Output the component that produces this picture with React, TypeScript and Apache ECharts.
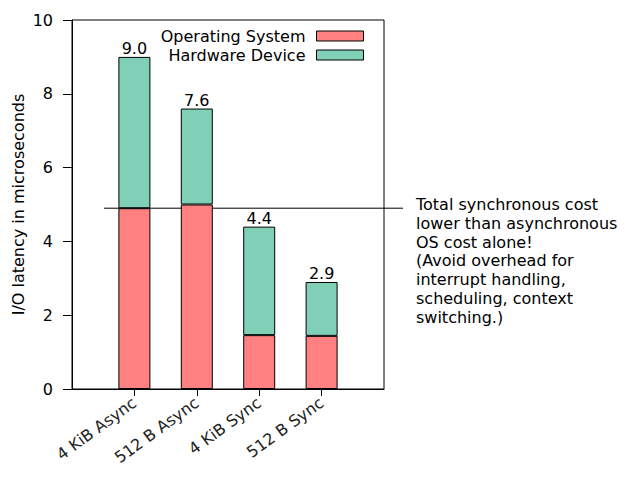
import React, { useEffect, useRef } from 'react';
import * as echarts from 'echarts';

const categories = ['4 KiB Async', '512 B Async', '4 KiB Sync', '512 B Sync'];
const osLatency = [4.9, 5.0, 1.46, 1.44];
const hwLatency = [4.1, 2.6, 2.94, 1.46];
const noteLines = [
  'Total synchronous cost',
  'lower than asynchronous',
  'OS cost alone!',
  '(Avoid overhead for',
  'interrupt handling,',
  'scheduling, context',
  'switching.)'
];

const FONT = 'DejaVu Sans';
const OS_COLOR = '#ff8080';
const HW_COLOR = '#80d0b8';

const App: React.FC = () => {
  const chartRef = useRef<HTMLDivElement>(null);

  useEffect(() => {
    if (!chartRef.current) return;
    const chart = echarts.init(chartRef.current, undefined, { renderer: 'svg' });

    // pad the category axis with an empty slot on each side
    const xData = ['', ...categories, ''];
    const pad = (arr: number[]) => ['-', ...arr, '-'];
    const totals = osLatency.map((v, i) => (v + hwLatency[i]).toFixed(1));

    const legendBase = {
      right: 276,
      padding: 0,
      icon: 'rect',
      itemWidth: 47,
      itemHeight: 10,
      align: 'right',
      itemStyle: { borderWidth: 1, borderColor: '#000' },
      textStyle: { fontFamily: FONT, fontSize: 16, color: '#000', padding: [0, 6, 0, 0] }
    };

    chart.setOption({
      animation: false,
      textStyle: { fontFamily: FONT },
      grid: {
        left: 72,
        right: 256,
        top: 20,
        bottom: 91,
        show: true,
        borderColor: '#000',
        borderWidth: 1
      },
      legend: [
        { ...legendBase, data: ['Operating System'], top: 28 },
        { ...legendBase, data: ['Hardware Device'], top: 47 }
      ],
      xAxis: {
        type: 'category',
        data: xData,
        boundaryGap: false,
        axisLine: { lineStyle: { color: '#000' } },
        axisTick: {
          length: 7,
          lineStyle: { color: '#000' },
          interval: (i: number) => i > 0 && i < xData.length - 1
        },
        axisLabel: {
          interval: 0,
          rotate: 36,
          margin: 12,
          fontFamily: FONT,
          fontSize: 16,
          color: '#222'
        }
      },
      yAxis: {
        type: 'value',
        min: 0,
        max: 10,
        interval: 2,
        name: 'I/O latency in microseconds',
        nameLocation: 'middle',
        nameGap: 46,
        nameTextStyle: { fontFamily: FONT, fontSize: 16, color: '#000' },
        splitLine: { show: false },
        axisLine: { show: true, lineStyle: { color: '#000' } },
        axisTick: { show: true, length: 9, lineStyle: { color: '#000' } },
        axisLabel: { margin: 19, fontFamily: FONT, fontSize: 16, color: '#000' }
      },
      series: [
        {
          name: 'Operating System',
          type: 'bar',
          stack: 'total',
          barWidth: 32,
          data: pad(osLatency),
          itemStyle: { color: OS_COLOR, borderColor: '#000', borderWidth: 1 }
        },
        {
          name: 'Hardware Device',
          type: 'bar',
          stack: 'total',
          barWidth: 32,
          data: pad(hwLatency),
          itemStyle: { color: HW_COLOR, borderColor: '#000', borderWidth: 1 },
          label: {
            show: true,
            position: 'top',
            distance: 0,
            fontFamily: FONT,
            fontSize: 16,
            color: '#000',
            formatter: (p: any) => totals[p.dataIndex - 1]
          }
        }
      ]
    });

    const y = chart.convertToPixel({ gridIndex: 0 }, [0, osLatency[0]])[1];
    chart.setOption({
      graphic: [
        {
          type: 'line',
          shape: { x1: 104, y1: y, x2: 403, y2: y },
          style: { stroke: '#000', lineWidth: 1 },
          silent: true
        },
        {
          type: 'text',
          left: 416,
          top: y - 13,
          style: {
            text: noteLines.join('\n'),
            font: `16px "${FONT}"`,
            lineHeight: 18.8,
            fill: '#000'
          }
        }
      ]
    });

    return () => {
      chart.dispose();
    };
  }, []);

  return <div ref={chartRef} style={{ width: 640, height: 480, margin: -8 }} />;
};

export default App;
